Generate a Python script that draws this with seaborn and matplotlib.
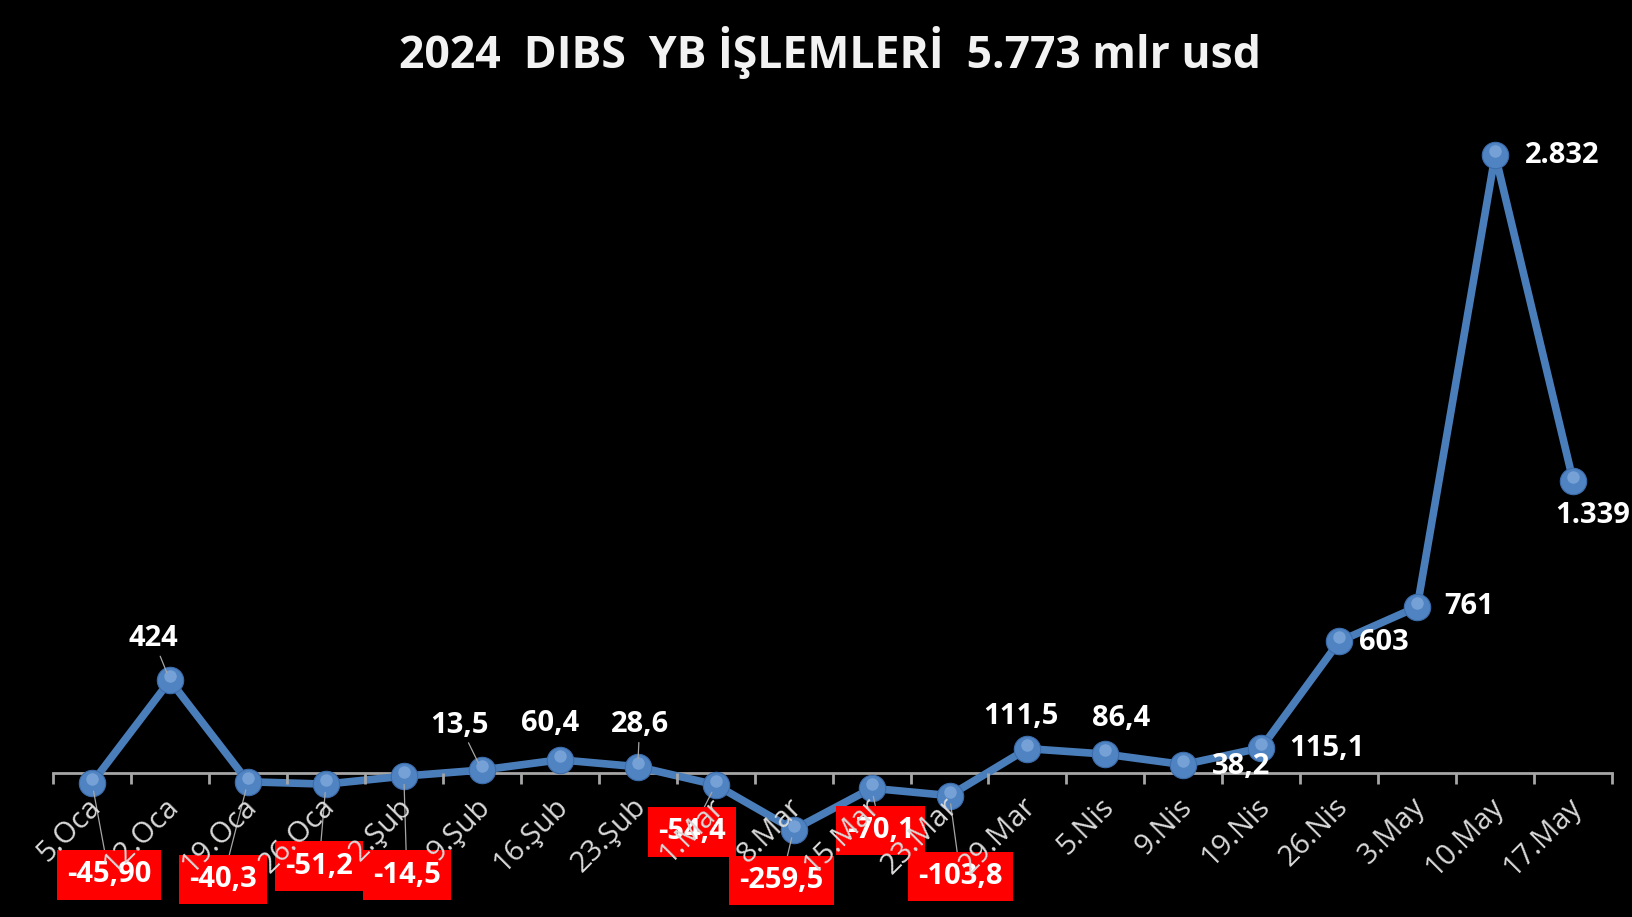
import numpy as np
import pandas as pd
import matplotlib.pyplot as plt
import matplotlib.transforms as mtransforms
import seaborn as sns

# weekly data (mlr usd)
weeks = ['5.Oca', '12.Oca', '19.Oca', '26.Oca', '2.Şub', '9.Şub', '16.Şub', '23.Şub',
         '1.Mar', '8.Mar', '15.Mar', '23.Mar', '29.Mar', '5.Nis', '9.Nis', '19.Nis',
         '26.Nis', '3.May', '10.May', '17.May']
values = [-45.90, 424, -40.3, -51.2, -14.5, 13.5, 60.4, 28.6,
          -54.4, -259.5, -70.1, -103.8, 111.5, 86.4, 38.2, 115.1,
          603, 761, 2832, 1339]
value_labels = ['-45,90', '424', '-40,3', '-51,2', '-14,5', '13,5', '60,4', '28,6',
                '-54,4', '-259,5', '-70,1', '-103,8', '111,5', '86,4', '38,2', '115,1',
                '603', '761', '2.832', '1.339']

# label placement (pixel offsets from the point) and leader lines
label_dx = [17, -17, -25, -7, 3, -22, -10, 2, -24, -12, 9, 11, -7, 16, 58, 66, 45, 52, 67, 20]
label_dy = [-92, 42, -98, -82, -99, 45, 36, 42, -47, -51, -42, -81, 32, 36, -2, -1, -1, 0, -1, -35]
leader = [True, True, True, True, True, True, False, True, True, True, True, True,
          False, False, False, False, False, False, False, False]

df = pd.DataFrame({'week': weeks, 'value': values, 'pos': np.arange(len(weeks))})

sns.set_style('dark')
plt.rcParams['font.family'] = ['Open Sans', 'DejaVu Sans']

fig = plt.figure(figsize=(16.33, 9.17), dpi=100, facecolor='black')
ax = fig.add_axes([0.0325, 0.04, 0.9547, 0.86])
ax.set_facecolor('black')

sns.lineplot(data=df, x='pos', y='value', ax=ax, color='#4a7ebb', linewidth=5.5,
             marker='o', markersize=19, markerfacecolor='#4f83c2',
             markeredgecolor='#3c6cab', markeredgewidth=0.8, zorder=4)
# highlight for a shaded sphere look
shine = mtransforms.offset_copy(ax.transData, fig=fig, x=0, y=4, units='dots')
ax.plot(df['pos'], df['value'], linestyle='none', marker='o', markersize=9,
        markerfacecolor='#9cc0ea', markeredgewidth=0, alpha=0.5, zorder=5,
        transform=shine)

ax.set_xlim(-0.5, len(weeks) - 0.5)
ax.set_ylim(-492, 3122)
ax.grid(False)
ax.set_xlabel('')
ax.set_ylabel('')
ax.set_yticks([])

for side in ['top', 'right', 'left']:
    ax.spines[side].set_visible(False)
ax.spines['bottom'].set_position(('data', 0))
ax.spines['bottom'].set_color('#a6a6a6')
ax.spines['bottom'].set_linewidth(2)
ax.spines['bottom'].set_zorder(3)

ax.set_xticks(df['pos'])
ax.set_xticklabels(weeks, rotation=45, ha='right', va='top', rotation_mode='anchor',
                   fontsize=21, color='#d9d9d9')
ax.tick_params(axis='x', which='major', bottom=True, length=0, pad=14)
ax.set_xticks(np.arange(len(weeks) + 1) - 0.5, minor=True)
ax.tick_params(axis='x', which='minor', bottom=True, length=8, width=2,
               color='#a6a6a6', direction='out')
ax.xaxis.set_zorder(6)
nudge = mtransforms.ScaledTranslation(-6 / 100, 0, fig.dpi_scale_trans)
for lbl in ax.get_xticklabels():
    lbl.set_transform(lbl.get_transform() + nudge)

for i, row in df.iterrows():
    neg = row['value'] < 0
    box = dict(boxstyle='square,pad=0.35', facecolor='#ff0000', edgecolor='none') if neg else None
    arrow = dict(arrowstyle='-', color='#a6a6a6', lw=0.9, shrinkA=0, shrinkB=6) if leader[i] else None
    ax.annotate(value_labels[i], xy=(row['pos'], row['value']),
                xytext=(label_dx[i], label_dy[i]), textcoords='offset pixels',
                ha='center', va='center', fontsize=21, fontweight='bold',
                color='white', bbox=box, arrowprops=arrow, zorder=5,
                annotation_clip=False)

fig.text(0.508, 0.943, '2024  DIBS  YB İŞLEMLERİ  5.773 mlr usd', ha='center', va='center',
         fontsize=32, fontweight='bold', color='#f2f2f2')

fig.savefig('out.png', dpi=100, facecolor='black')
